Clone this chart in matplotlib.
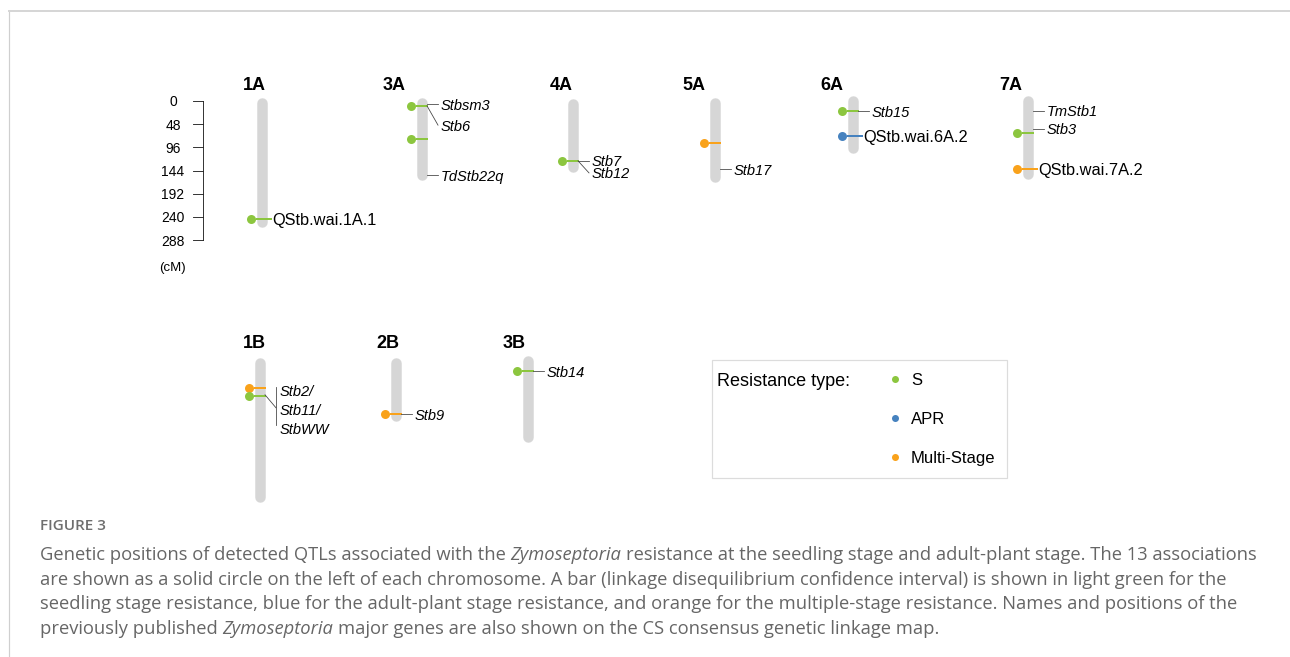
import matplotlib
matplotlib.use("Agg")
import matplotlib.pyplot as plt
from matplotlib.patches import Rectangle

plt.rcParams["font.family"] = ["Liberation Sans", "DejaVu Sans"]

# ---- chromosomes (cM) ----
chrom_names = ["1A", "3A", "4A", "5A", "6A", "7A", "1B", "2B", "3B"]
chrom_start = [5, 5, 7, 5, 0, 0, 4, 4, 0]
chrom_end = [250, 153, 136, 157, 97, 152, 282, 114, 157]
chrom_row = [0, 0, 0, 0, 0, 0, 1, 1, 1]

# ---- detected QTLs ----
qtl_chrom = ["1A", "3A", "3A", "4A", "5A", "6A", "6A", "7A", "7A", "1B", "1B", "2B", "3B"]
qtl_pos = [244.5, 10, 79, 124, 87, 21, 72, 67, 141, 56, 72.5, 110, 21]
qtl_type = ["S", "S", "S", "S", "Multi-Stage", "S", "APR", "S", "Multi-Stage",
            "Multi-Stage", "S", "Multi-Stage", "S"]
qtl_label = ["QStb.wai.1A.1", "", "", "", "", "", "QStb.wai.6A.2", "", "QStb.wai.7A.2",
             "", "", "", ""]

# ---- published Stb genes ----
gene_chrom = ["3A", "3A", "3A", "4A", "4A", "5A", "6A", "7A", "7A", "2B", "3B"]
gene_pos = [7, 10, 154, 124, 124, 141, 21, 20, 57, 110, 21]
gene_name = ["Stbsm3", "Stb6", "TdStb22q", "Stb7", "Stb12", "Stb17", "Stb15",
             "TmStb1", "Stb3", "Stb9", "Stb14"]
# 1B cluster shown with a bracket
cluster_chrom = "1B"
cluster_pos = 70
cluster_names = ["Stb2/", "Stb11/", "StbWW"]

scale_ticks = [0, 48, 96, 144, 192, 240, 288]

type_names = ["S", "APR", "Multi-Stage"]
type_colors = ["#8cc63f", "#4682bf", "#f9a21b"]

caption_head = "FIGURE 3"
caption_lines = [
    [("Genetic positions of detected QTLs associated with the", False), ("Zymoseptoria", True),
     ("resistance at the seedling stage and adult-plant stage. The 13 associations", False)],
    [("are shown as a solid circle on the left of each chromosome. A bar (linkage disequilibrium "
      "confidence interval) is shown in light green for the", False)],
    [("seedling stage resistance, blue for the adult-plant stage resistance, and orange for the "
      "multiple-stage resistance. Names and positions of the", False)],
    [("previously published", False), ("Zymoseptoria", True),
     ("major genes are also shown on the CS consensus genetic linkage map.", False)],
]

# ---- layout (pixels) ----
W, H = 1290, 657
PX = 0.72                      # points per pixel
k = 139 / 288                  # pixels per cM
row_zero = [101, 361]
chrom_x = [262, 422, 573, 715, 853, 1028, 260, 396, 528]
chrom_label_x = [254, 394, 561, 694, 832, 1011, 254, 388, 514]
chrom_label_y = [86, 344]
gene_label_pos = [7, 50, 154, 124, 149, 141, 21, 20, 57, 110, 21]

fig = plt.figure(figsize=(W / 100, H / 100), dpi=100)
base = fig.add_axes([0, 0, 1, 1])
base.set_xlim(0, W)
base.set_ylim(H, 0)
base.axis("off")


def row_axes(y0, top, bot):
    a = fig.add_axes([0, 1 - bot / H, 1, (bot - top) / H])
    a.set_xlim(0, W)
    a.set_ylim((bot - y0) / k, (top - y0) / k)
    a.axis("off")
    return a


rows = [row_axes(row_zero[0], 55, 300), row_axes(row_zero[1], 320, 520)]

# frame
base.plot([9, 9], [10.5, H], color="#cfcfcf", lw=1.2 * PX)
base.plot([9, W], [10.5, 10.5], color="#d6d6d6", lw=2 * PX)

# chromosomes
for name, s, e, r, x, lx in zip(chrom_names, chrom_start, chrom_end, chrom_row,
                                chrom_x, chrom_label_x):
    rows[r].plot([x, x], [s, e], color="#d6d6d6", lw=10.5 * PX,
                 solid_capstyle="round", zorder=1)
    base.text(lx, chrom_label_y[r], name, fontsize=13, fontweight="bold",
              ha="center", va="center")

# QTLs
for c, p, t, lab in zip(qtl_chrom, qtl_pos, qtl_type, qtl_label):
    i = chrom_names.index(c)
    a, x = rows[chrom_row[i]], chrom_x[i]
    col = type_colors[type_names.index(t)]
    a.plot([x - 5, x + (9 if lab else 5)], [p, p], color=col, lw=2 * PX, zorder=2)
    a.plot(x - 11, p, "o", ms=9 * PX, color=col, mec="none", zorder=3)
    if lab:
        a.text(x + 10, p, lab, fontsize=11.8, ha="left", va="center_baseline")

# genes
for c, p, lp, name in zip(gene_chrom, gene_pos, gene_label_pos, gene_name):
    i = chrom_names.index(c)
    a, x = rows[chrom_row[i]], chrom_x[i]
    a.plot([x + 5, x + 16], [p, lp], color="#444444", lw=0.8 * PX, zorder=2)
    a.text(x + 19, lp, name, fontsize=10.5, style="italic", ha="left",
           va="center_baseline")

# 1B bracketed cluster
i = chrom_names.index(cluster_chrom)
a, x = rows[chrom_row[i]], chrom_x[i]
a.plot([x + 5, x + 16], [cluster_pos, 97], color="#444444", lw=0.8 * PX)
a.plot([x + 16, x + 16], [54, 133], color="#444444", lw=0.8 * PX)
for j, name in enumerate(cluster_names):
    a.text(x + 20, 62 + 38.5 * j, name, fontsize=10.5, style="italic",
           ha="left", va="center_baseline")

# scale bar
a = rows[0]
a.plot([203, 203], [scale_ticks[0], scale_ticks[-1]], color="#222222", lw=0.9 * PX)
for t in scale_ticks:
    a.plot([193, 203], [t, t], color="#222222", lw=0.9 * PX)
    a.text(173, t, str(t), fontsize=10, ha="center", va="center_baseline")
base.text(172, 266, "(cM)", fontsize=9.5, ha="center", va="center_baseline")

# legend
base.add_patch(Rectangle((712, 360), 295, 118, fill=False, ec="#dcdcdc", lw=1.2 * PX))
base.text(717, 379, "Resistance type:", fontsize=13, ha="left", va="center_baseline")
for j, (lab, col) in enumerate(zip(type_names, type_colors)):
    base.plot(895, 379 + 39 * j, "o", ms=7 * PX, color=col, mec="none")
    base.text(911, 379 + 39 * j, lab, fontsize=12, ha="left", va="center_baseline")

# caption
cap_font = dict(family=["Open Sans", "DejaVu Sans"], fontsize=13.2, color="#666666")
base.text(40, 525, caption_head, fontsize=11, fontweight="semibold", color="#6e6e6e",
          family=["Open Sans", "DejaVu Sans"], va="center_baseline")
renderer = fig.canvas.get_renderer()
probe1 = base.text(0, 0, "x x", **cap_font)
probe2 = base.text(0, 0, "xx", **cap_font)
space_w = probe1.get_window_extent(renderer).width - probe2.get_window_extent(renderer).width
probe1.remove()
probe2.remove()
for n, pieces in enumerate(caption_lines):
    xx = 40
    for txt, ital in pieces:
        t = base.text(xx, 553 + 24.7 * n, txt, style="italic" if ital else "normal",
                      va="center_baseline", **cap_font)
        xx += t.get_window_extent(renderer).width + space_w

fig.savefig("out.png", dpi=100)
